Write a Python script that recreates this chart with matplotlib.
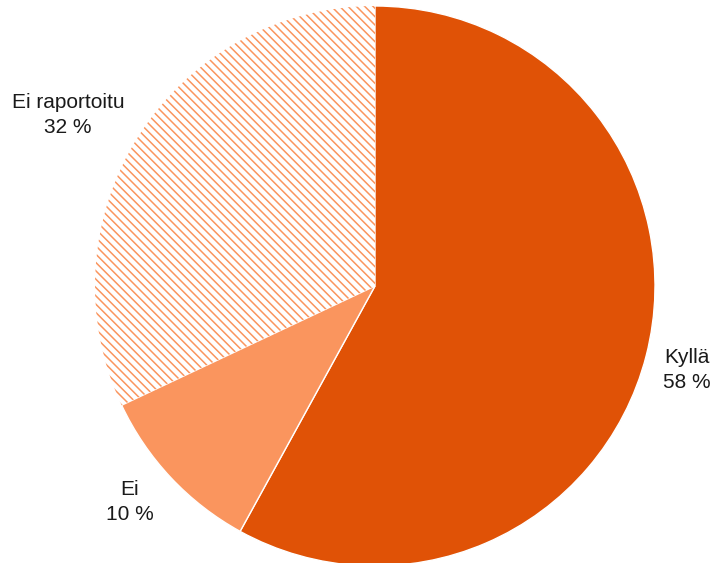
import matplotlib
matplotlib.use("Agg")
from matplotlib import pyplot as plt

plt.rcParams['font.family'] = ['Liberation Sans', 'DejaVu Sans']
plt.rcParams['hatch.linewidth'] = 1.1

labels = ['Kyllä', 'Ei', 'Ei raportoitu']
shares = [58, 10, 32]
colors = ['#E05206', '#FA955E', 'white']

fig = plt.figure(figsize=(7.15, 5.63), dpi=100)
ax = fig.add_axes([95 / 715, -3 / 563, 560 / 715, 560 / 563])

wedges, _ = ax.pie(shares, colors=colors, startangle=90, counterclock=False,
                   radius=1, wedgeprops=dict(linewidth=1, edgecolor='white'))
# hatched slice for "Ei raportoitu"
wedges[2].set_hatch('\\\\\\\\')
wedges[2].set_edgecolor('#FA955E')
wedges[2].set_linewidth(0)

ax.set_xlim(-1, 1)
ax.set_ylim(-1, 1)
ax.set_aspect('equal')
ax.axis('off')

# label positions in figure pixels
label_pos = [(687, 370), (130, 502), (68, 115)]
for lab, val, (px, py) in zip(labels, shares, label_pos):
    fig.text(px / 715, 1 - py / 563, f"{lab}\n{val} %", ha='center', va='center',
             fontsize=15, linespacing=1.35, color='#1a1a1a')

fig.savefig('out.png', dpi=100)
